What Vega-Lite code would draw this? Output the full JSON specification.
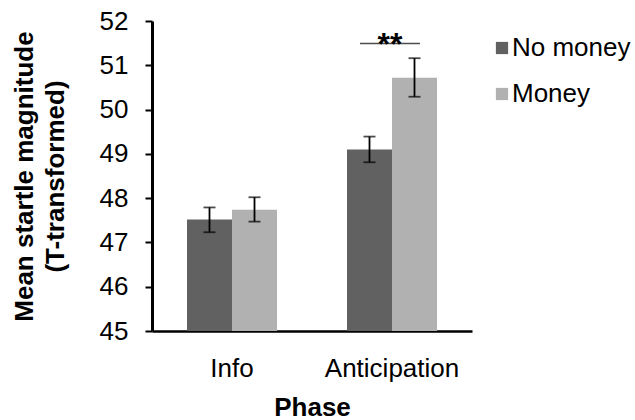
{
  "$schema": "https://vega.github.io/schema/vega-lite/v6.json",
  "autosize": "none",
  "width": 320,
  "height": 310,
  "padding": {"left": 152, "top": 21, "right": 163, "bottom": 89},
  "background": "white",
  "config": {
    "font": "Liberation Sans",
    "view": {"stroke": null},
    "axis": {"grid": false, "domainColor": "black", "labelColor": "black", "titleColor": "black", "labelFont": "Liberation Sans", "titleFont": "Liberation Sans"}
  },
  "datasets": {
    "bars": [
      {"phase": "Info", "group": "No money", "mean": 47.52, "lo": 47.23, "hi": 47.79},
      {"phase": "Info", "group": "Money", "mean": 47.74, "lo": 47.47, "hi": 48.02},
      {"phase": "Anticipation", "group": "No money", "mean": 49.1, "lo": 48.81, "hi": 49.39},
      {"phase": "Anticipation", "group": "Money", "mean": 50.72, "lo": 50.29, "hi": 51.16}
    ],
    "sig": [
      {"phase": "Anticipation", "y": 51.49, "label": "**"}
    ]
  },
  "layer": [
    {
      "data": {"name": "bars"},
      "mark": {"type": "bar"},
      "encoding": {
        "x": {"field": "phase", "type": "nominal", "sort": ["Info", "Anticipation"],
          "scale": {"paddingInner": 0.4375, "paddingOuter": 0.21875},
          "axis": {"title": "Phase", "labelAngle": 0, "labelFontSize": 26, "titleFontSize": 26, "titleFontWeight": "bold", "ticks": false, "tickSize": 0, "labelPadding": 24, "titlePadding": 13, "domainWidth": 2.5}},
        "xOffset": {"field": "group", "type": "nominal", "sort": ["No money", "Money"], "scale": {"paddingInner": 0, "paddingOuter": 0}},
        "y": {"field": "mean", "type": "quantitative",
          "scale": {"domain": [45, 52], "nice": false, "zero": false},
          "axis": {"title": ["Mean startle magnitude", "(T-transformed)"], "values": [45, 46, 47, 48, 49, 50, 51, 52], "labelFontSize": 26, "labelPadding": 17, "tickSize": 7, "tickWidth": 2, "tickColor": "black", "domainWidth": 3, "titleFontSize": 26, "titleFontWeight": "bold", "titlePadding": 31, "titleLineHeight": 31}},
        "y2": {"datum": 45},
        "color": {"field": "group", "type": "nominal", "sort": ["No money", "Money"],
          "scale": {"domain": ["No money", "Money"], "range": ["#616161", "#b1b1b1"]},
          "legend": {"title": null, "orient": "none", "legendX": 337, "legendY": 14, "padding": 0, "symbolType": "square", "symbolSize": 150, "symbolStrokeWidth": 0, "labelFontSize": 26, "labelColor": "black", "labelFont": "Liberation Sans", "rowPadding": 20, "labelOffset": -3}}
      }
    },
    {
      "data": {"name": "bars"},
      "mark": {"type": "rule", "color": "black", "strokeWidth": 1.8},
      "encoding": {
        "x": {"field": "phase", "type": "nominal", "sort": ["Info", "Anticipation"]},
        "xOffset": {"field": "group", "type": "nominal", "sort": ["No money", "Money"]},
        "y": {"field": "lo", "type": "quantitative"},
        "y2": {"field": "hi"}
      }
    },
    {
      "data": {"name": "bars"},
      "mark": {"type": "tick", "color": "black", "thickness": 1.8, "size": 12, "orient": "horizontal"},
      "encoding": {
        "x": {"field": "phase", "type": "nominal", "sort": ["Info", "Anticipation"]},
        "xOffset": {"field": "group", "type": "nominal", "sort": ["No money", "Money"]},
        "y": {"field": "lo", "type": "quantitative"}
      }
    },
    {
      "data": {"name": "bars"},
      "mark": {"type": "tick", "color": "black", "thickness": 1.8, "size": 12, "orient": "horizontal"},
      "encoding": {
        "x": {"field": "phase", "type": "nominal", "sort": ["Info", "Anticipation"]},
        "xOffset": {"field": "group", "type": "nominal", "sort": ["No money", "Money"]},
        "y": {"field": "hi", "type": "quantitative"}
      }
    },
    {
      "data": {"name": "sig"},
      "mark": {"type": "tick", "color": "black", "thickness": 1.5, "size": 60, "orient": "horizontal", "xOffset": -2},
      "encoding": {
        "x": {"field": "phase", "type": "nominal", "sort": ["Info", "Anticipation"]},
        "y": {"field": "y", "type": "quantitative"}
      }
    },
    {
      "data": {"name": "sig"},
      "mark": {"type": "text", "color": "black", "fontSize": 32, "fontWeight": "bold", "font": "Liberation Sans", "baseline": "alphabetic", "dy": 11, "dx": -2},
      "encoding": {
        "x": {"field": "phase", "type": "nominal", "sort": ["Info", "Anticipation"]},
        "y": {"field": "y", "type": "quantitative"},
        "text": {"field": "label"}
      }
    }
  ]
}
